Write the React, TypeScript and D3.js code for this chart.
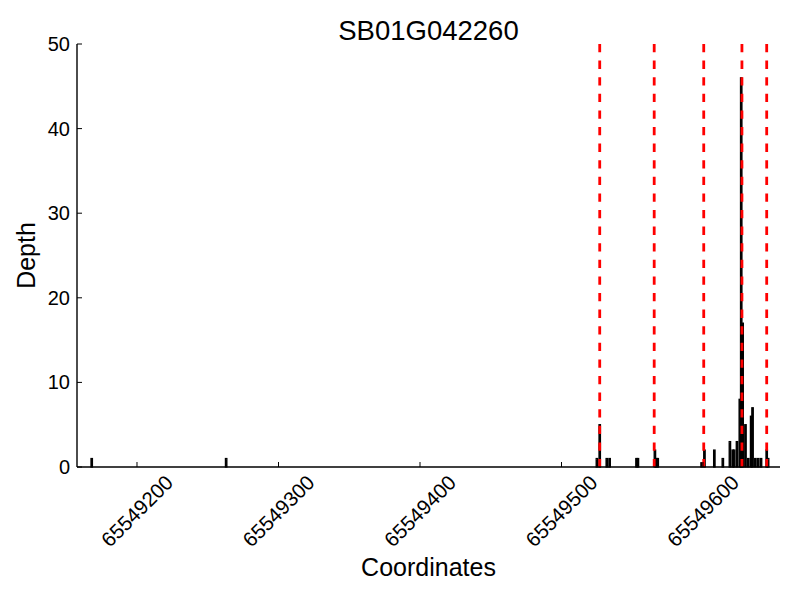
import React from 'react';
import * as d3 from 'd3';

const title = 'SB01G042260';
const positions = [
  65549168, 65549263, 65549525, 65549527, 65549532, 65549534, 65549553, 65549554,
  65549566, 65549567, 65549568, 65549599, 65549601, 65549608, 65549614, 65549619,
  65549621, 65549622, 65549624, 65549626, 65549627, 65549628, 65549630, 65549632,
  65549634, 65549635, 65549637, 65549639, 65549641, 65549645, 65549646,
];
const depths = [
  1, 1, 1, 5, 1, 1, 1, 1,
  2, 1, 1, 0.5, 2, 2, 1, 3,
  2, 2, 3, 8, 46, 17, 5, 1,
  6, 7, 1, 1, 1, 2, 1,
];
const boundaries = [65549527, 65549565.5, 65549600.5, 65549627.5, 65549645];
const xTicks = [65549200, 65549300, 65549400, 65549500, 65549600];
const yTicks = [0, 10, 20, 30, 40, 50];

const W = 800;
const H = 600;
const margin = { left: 77, right: 20, top: 44, bottom: 133 };

export default function App() {
  const x = d3.scaleLinear()
    .domain([65549157.6, 65549654.4])
    .range([margin.left, W - margin.right]);
  const y = d3.scaleLinear()
    .domain([0, 50])
    .range([H - margin.bottom, margin.top]);

  const font = '"Liberation Sans", Arial, sans-serif';
  const y0 = y(0);

  return (
    <svg width={W} height={H} style={{ position: 'absolute', left: 0, top: 0, background: '#fff' }}
      fontFamily={font}>
      <rect width={W} height={H} fill="#fff" />
      <text x={(margin.left + W - margin.right) / 2} y={40} fontSize={27.5} textAnchor="middle">{title}</text>

      {/* bars */}
      {positions.map((p, i) => {
        const x1 = x(p - 0.5);
        const x2 = x(p + 0.5);
        return (
          <rect key={i} x={x1} y={y(depths[i])} width={x2 - x1} height={y0 - y(depths[i])}
            fill="#000" stroke="#000" strokeWidth={1.3} />
        );
      })}

      {/* exon boundaries */}
      {boundaries.map((b, i) => (
        <line key={i} x1={x(b)} x2={x(b)} y1={margin.top} y2={y0}
          stroke="#ff0000" strokeWidth={2.8} strokeDasharray="8.3 8.3" />
      ))}

      {/* axes */}
      <line x1={margin.left} x2={margin.left} y1={margin.top} y2={y0} stroke="#000" strokeWidth={1.4} />
      <line x1={margin.left} x2={W - margin.right} y1={y0} y2={y0} stroke="#000" strokeWidth={1.4} />

      {yTicks.map(t => (
        <g key={t}>
          <line x1={margin.left} x2={margin.left + 5} y1={y(t)} y2={y(t)} stroke="#000" strokeWidth={1} />
          <text x={margin.left - 7} y={y(t)} dy="0.35em" fontSize={20} textAnchor="end">{t}</text>
        </g>
      ))}
      {xTicks.map(t => (
        <g key={t}>
          <line x1={x(t)} x2={x(t)} y1={y0} y2={y0 - 5} stroke="#000" strokeWidth={1} />
          <text transform={`translate(${x(t)}, ${y0 + 44}) rotate(-45)`} fontSize={20.5}
            textAnchor="middle" dy="0.35em">{t}</text>
        </g>
      ))}

      <text x={(margin.left + W - margin.right) / 2} y={576} fontSize={25} textAnchor="middle">Coordinates</text>
      <text transform={`translate(35, ${(margin.top + y0) / 2}) rotate(-90)`} fontSize={25}
        textAnchor="middle">Depth</text>
    </svg>
  );
}
